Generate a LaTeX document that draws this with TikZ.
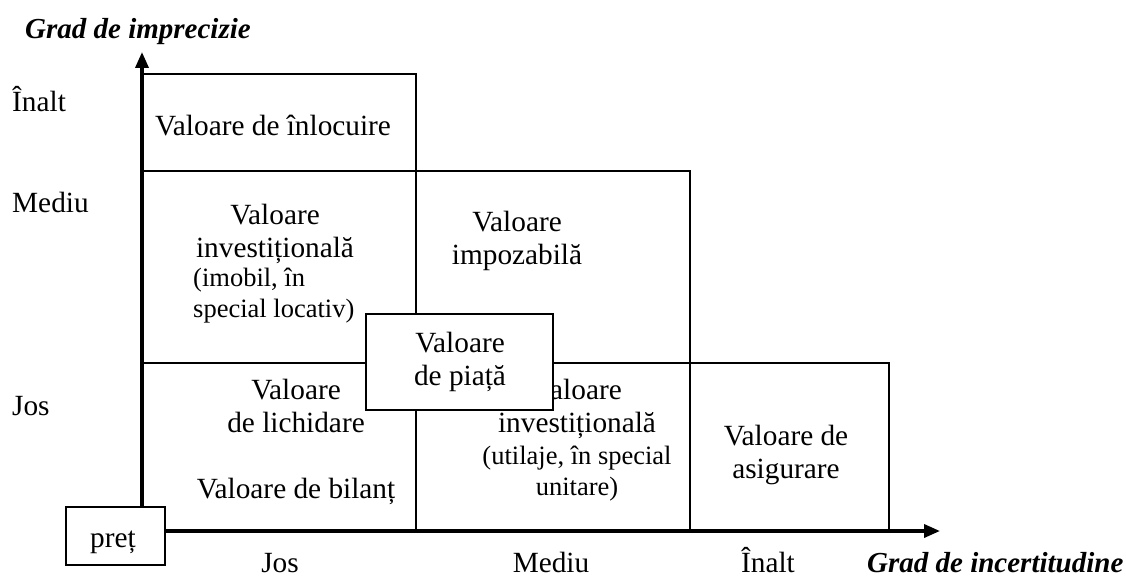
\documentclass[tikz,border=0pt]{standalone}
\usepackage{fontspec}
\setmainfont{Liberation Serif}
\usetikzlibrary{arrows.meta}
\begin{document}
\begin{tikzpicture}[x=1pt,y=-1pt,
  axisline/.style={line width=3.5pt,-{Triangle[length=16pt,width=13pt]}},
  cell/.style={line width=1.7pt},
  lbl/.style={inner sep=0pt,font=\fontsize{29.3}{33}\selectfont,align=center},
  sml/.style={inner sep=0pt,font=\fontsize{26.5}{30.5}\selectfont,align=center},
  ttl/.style={inner sep=0pt,font=\fontsize{29}{33}\selectfont\bfseries\itshape},
  boxnode/.style={draw,line width=1.7pt,fill=white,inner sep=0pt,font=\fontsize{29.3}{32}\selectfont,align=center}]
\useasboundingbox (0,0) rectangle (1126,577);
\coordinate (ytip) at (142,52);
\coordinate (xtip) at (940,531);
% cells
\draw[cell] (142,74) -| (416,531);
\draw[cell] (142,171) -| (690,531);
\draw[cell] (142,363) -| (889,531);
% price box
\node[boxnode,minimum width=99pt,minimum height=58pt] (pret) at (115.5,536) {};
\node[lbl,anchor=base] (pretT) at (113,547) {preț};
% axes
\draw[axisline] (pret.north -| ytip) -- (ytip);
\draw[axisline] (pret.east |- xtip) -- (xtip);
% axis titles
\node[ttl,anchor=base west] (gy) at (25,39) {Grad de imprecizie};
\node[ttl,anchor=base west] (gx) at (867,572) {Grad de incertitudine};
% left labels
\node[lbl,anchor=base west] (yhi) at (12,112) {Înalt};
\node[lbl,anchor=base west] (ymid) at (12,213) {Mediu};
\node[lbl,anchor=base west] (ylo) at (12,415) {Jos};
% bottom labels
\node[lbl,anchor=base] (xlo) at (280,572) {Jos};
\node[lbl,anchor=base] (xmid) at (551,572) {Mediu};
\node[lbl,anchor=base] (xhi) at (768,572) {Înalt};
% cell texts
\node[lbl,anchor=base] (inl) at (273,136) {Valoare de înlocuire};
\node[lbl,anchor=base] (invA) at (275,258) {Valoare\\investițională};
\node[sml,anchor=base west,align=left] (invAs) at (193,317) {(imobil, în\\special locativ)};
\node[lbl,anchor=base] (imp) at (517,265) {Valoare\\impozabilă};
\node[lbl,anchor=base] (lich) at (296,432) {Valoare\\de lichidare};
\node[lbl,anchor=base] (bil) at (296,498) {Valoare de bilanț};
\node[lbl,anchor=base] (invB) at (577,432) {Valoare\\investițională};
\node[sml,anchor=base] (invBs) at (577,495) {(utilaje, în special\\unitare)};
\node[lbl,anchor=base] (asig) at (786,478) {Valoare de\\asigurare};
% market value box on top
\node[boxnode,minimum width=187pt,minimum height=96pt] (piata) at (459.5,362) {};
\node[lbl,anchor=base] (piataT) at (460,385) {Valoare\\de piață};
\end{tikzpicture}
\end{document}
